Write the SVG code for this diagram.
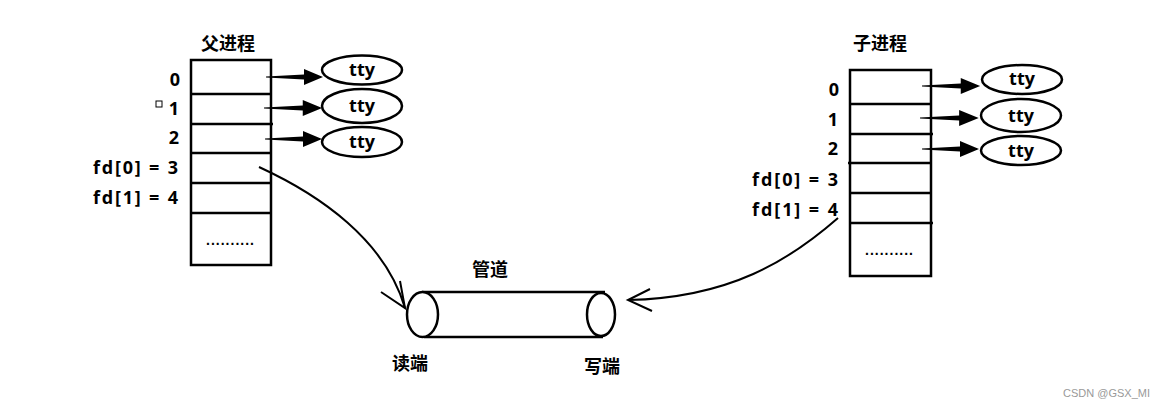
<svg xmlns="http://www.w3.org/2000/svg" width="1165" height="408" viewBox="0 0 1165 408">
<style>
.t{font-family:"Open Sans","Noto Sans CJK SC",sans-serif;font-weight:bold;font-size:18px;fill:#000}
.c{font-family:"Noto Sans CJK SC",sans-serif;font-weight:bold;font-size:18px;fill:#000}
.d{font-family:"Liberation Sans",sans-serif;font-weight:bold;font-size:14px;fill:#000}
.r{text-anchor:end}
.m{text-anchor:middle}
.box{fill:#fff;stroke:#000;stroke-width:2.5}
.ln{stroke:#000;stroke-width:2.5;fill:none}
.el{fill:#fff;stroke:#000;stroke-width:2.5}
.cv{stroke:#000;stroke-width:2;fill:none}
</style>
<defs>
<path id="fat" d="M0,-0.6 L38,-2.5 L38,-8 L57,0 L38,8 L38,2.5 L0,0.6 Z" fill="#000"/>
</defs>
<rect width="1165" height="408" fill="#fff"/>

<g id="parent">
<text class="c m" x="228" y="50">父进程</text>
<rect class="box" x="191" y="60" width="80" height="205"/>
<line class="ln" x1="191" y1="94" x2="271" y2="94"/>
<line class="ln" x1="191" y1="124" x2="273" y2="124"/>
<line class="ln" x1="191" y1="153" x2="271" y2="153"/>
<line class="ln" x1="191" y1="183" x2="271" y2="183"/>
<line class="ln" x1="191" y1="213" x2="271" y2="213"/>
<text class="t r" x="180" y="86">0</text>
<text class="t r" x="179" y="115">1</text>
<text class="t r" x="179" y="144">2</text>
<text class="t" x="93" y="174" textLength="85" lengthAdjust="spacing">fd[0] = 3</text>
<text class="t" x="93" y="204" textLength="85" lengthAdjust="spacing">fd[1] = 4</text>
<rect x="156" y="101" width="6" height="6" fill="none" stroke="#000" stroke-width="1"/>
<text class="d" x="206" y="245" textLength="48" lengthAdjust="spacing">..........</text>
</g>

<g id="parent-tty">
<ellipse class="el" cx="362" cy="70" rx="40" ry="14.5"/>
<text class="t m" x="362" y="76">tty</text>
<ellipse class="el" cx="362" cy="106" rx="40" ry="17"/>
<text class="t m" x="362" y="112">tty</text>
<ellipse class="el" cx="362" cy="142" rx="40" ry="15"/>
<text class="t m" x="362" y="148">tty</text>
</g>

<g id="child">
<text class="c m" x="880" y="50">子进程</text>
<rect class="box" x="850" y="70" width="81" height="206"/>
<line class="ln" x1="850" y1="104" x2="931" y2="104"/>
<line class="ln" x1="850" y1="134" x2="933" y2="134"/>
<line class="ln" x1="848" y1="163" x2="931" y2="163"/>
<line class="ln" x1="850" y1="193" x2="931" y2="193"/>
<line class="ln" x1="850" y1="223" x2="933" y2="223"/>
<text class="t r" x="839" y="96">0</text>
<text class="t r" x="838" y="126">1</text>
<text class="t r" x="838" y="155">2</text>
<text class="t" x="752" y="186" textLength="86" lengthAdjust="spacing">fd[0] = 3</text>
<text class="t" x="752" y="216" textLength="86" lengthAdjust="spacing">fd[1] = 4</text>
<text class="d" x="865" y="255" textLength="48" lengthAdjust="spacing">..........</text>
</g>

<g id="child-tty">
<ellipse class="el" cx="1022" cy="79.5" rx="40" ry="14.5"/>
<text class="t m" x="1022" y="85">tty</text>
<ellipse class="el" cx="1021" cy="115.5" rx="40" ry="16.5"/>
<text class="t m" x="1021" y="122">tty</text>
<ellipse class="el" cx="1021" cy="150.5" rx="40" ry="14.5"/>
<text class="t m" x="1021" y="157">tty</text>
</g>

<g id="pipe">
<text class="c m" x="490" y="276">管道</text>
<line class="ln" x1="422" y1="292" x2="605" y2="292"/>
<line class="ln" x1="424" y1="337" x2="603" y2="337"/>
<ellipse class="el" cx="422.5" cy="314.5" rx="15.5" ry="22.5"/>
<ellipse class="el" cx="601" cy="314.5" rx="14" ry="21.5"/>
<text class="c m" x="410" y="370">读端</text>
<text class="c m" x="602" y="373">写端</text>
</g>

<g id="connectors">
<use href="#fat" transform="translate(266,77)"/>
<use href="#fat" transform="translate(264,108) scale(1.02,1)"/>
<use href="#fat" transform="translate(265,139)"/>
<use href="#fat" transform="translate(922,86) scale(1.02,1)"/>
<use href="#fat" transform="translate(920,118) scale(1.03,1)"/>
<use href="#fat" transform="translate(922,149)"/>
<path class="cv" d="M259,167 C320,195 385,240 405,308"/>
<path class="cv" d="M381,292 L405,308 L400,281"/>
<path class="cv" d="M838,218 C790,260 730,298 628,300"/>
<path class="cv" d="M650,289 L628,300 L652,311"/>
</g>

<text x="1150" y="397" text-anchor="end" style="font-family:'Liberation Sans',sans-serif;font-size:11px;fill:#999">CSDN @GSX_MI</text>
</svg>
